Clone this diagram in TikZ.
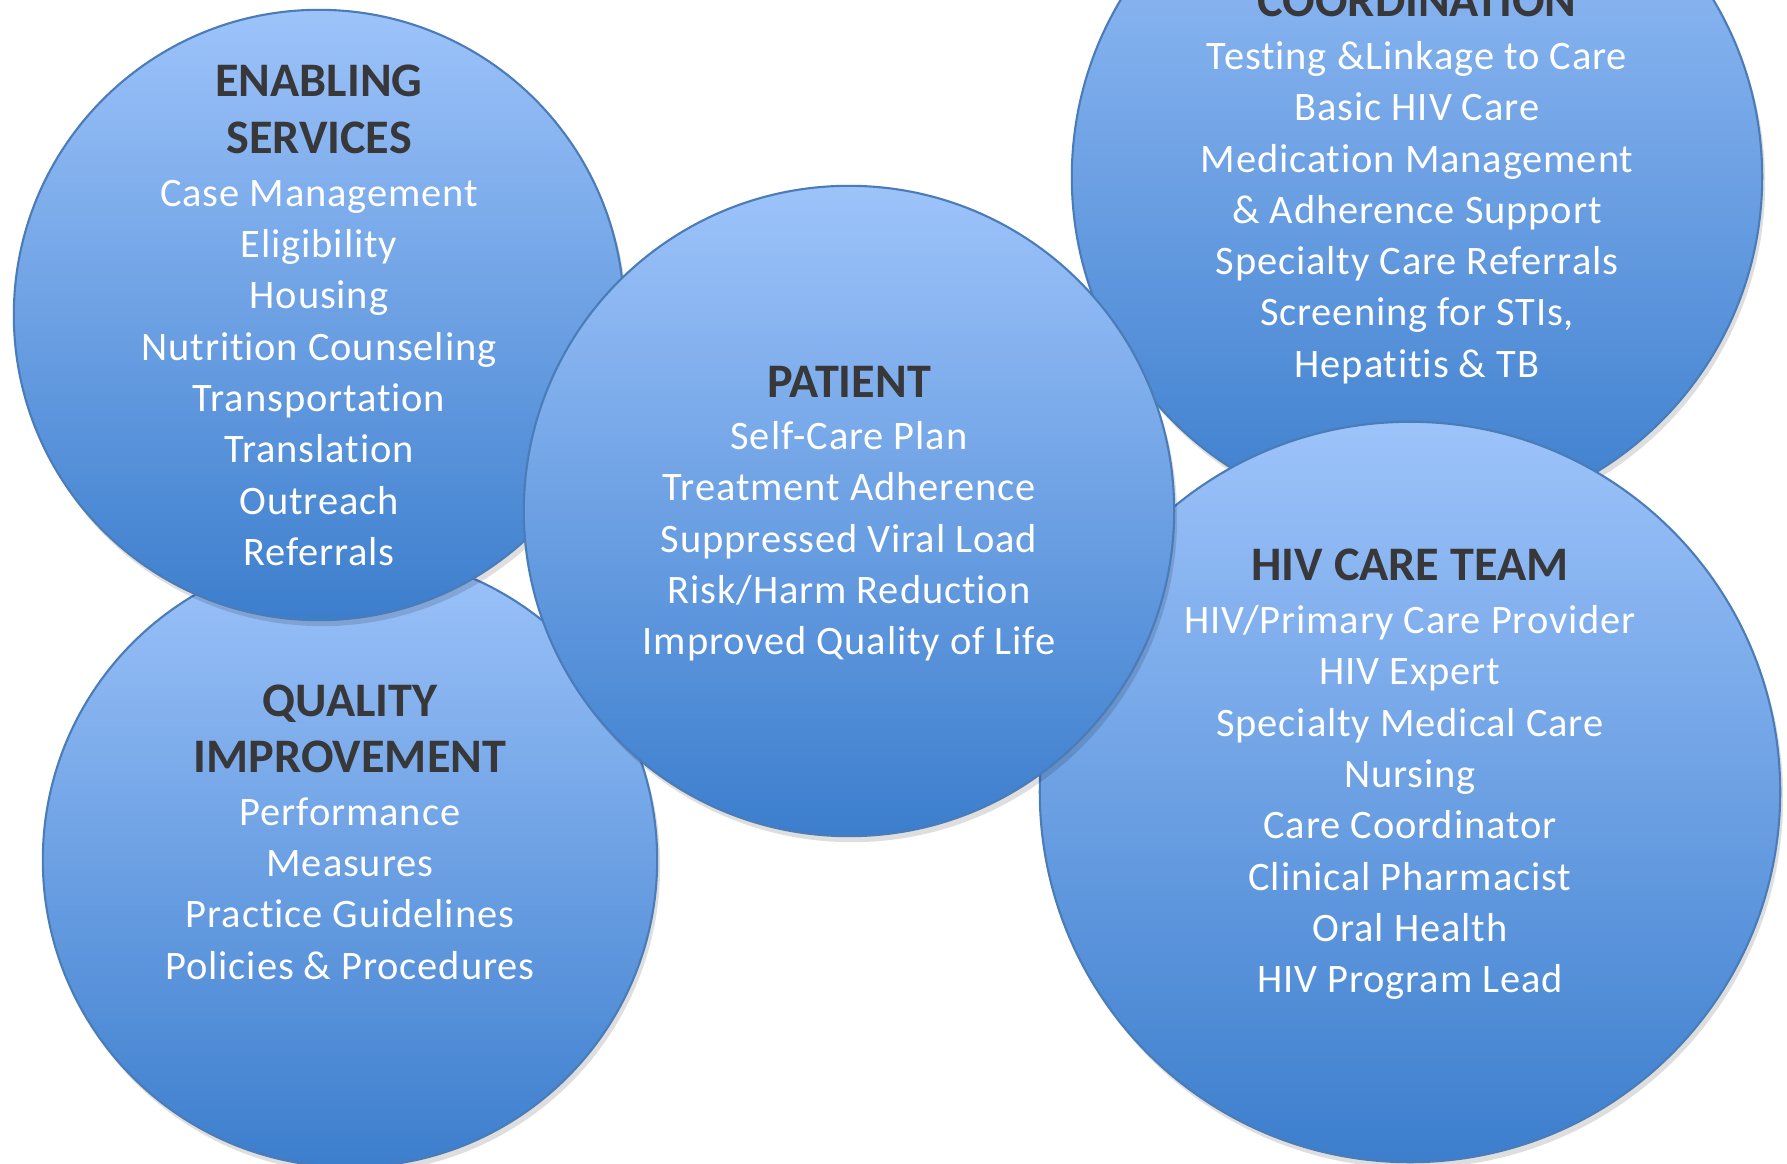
\documentclass[tikz,border=0pt]{standalone}
\usepackage{fontspec}
\setmainfont[Ligatures=NoCommon]{Carlito}
\newfontfamily\itemfont[Ligatures=NoCommon, LetterSpace=2.2]{Carlito}
\usetikzlibrary{shadows}
\definecolor{bubtop}{RGB}{157,195,250}
\definecolor{bubbot}{RGB}{60,126,205}
\definecolor{bubline}{RGB}{74,124,184}
\definecolor{headgray}{RGB}{56,56,58}
\tikzset{
  bubble/.style={circle, draw=bubline, line width=0.6pt, inner sep=0pt,
    top color=bubtop, bottom color=bubbot,
    drop shadow={shadow xshift=0.3mm, shadow yshift=-0.6mm, opacity=0.13, fill=black}},
  head/.style={anchor=base, inner sep=0pt, text=headgray, font=\bfseries\fontsize{13.7}{16}\selectfont},
  item/.style={anchor=base, inner sep=0pt, text=white, font=\itemfont\fontsize{11.5}{13}\selectfont}
}
\begin{document}
\begin{tikzpicture}[x=0.01cm, y=-0.01cm]
	\def\gap{51.3}
	\useasboundingbox (0,0) rectangle (1787,1164);
	\fill[white] (0,0) rectangle (1787,1164);
	\clip (0,0) rectangle (1787,1164);
	% circles, back to front
	\node[bubble, minimum size=6.14cm] (quality) at (350,860) {};
	\node[bubble, minimum size=6.10cm] (enabling) at (319,315) {};
	\node[bubble, minimum size=6.90cm] (coord) at (1417,177) {};
	\node[bubble, minimum size=7.40cm] (team) at (1410,792) {};
	\node[bubble, minimum size=6.50cm] (patient) at (849,511) {};
	% enabling services
	\node[head] (en-h1) at (319,97) {ENABLING};
	\node[head] (en-h2) at (319,154) {SERVICES};
	\foreach \t [count=\i from 0] in {Case Management, Eligibility, Housing, Nutrition Counseling, Transportation, Translation, Outreach, Referrals}
		\node[item] (en-\i) at (319,{206.3+\i*\gap}) {\t};
	% quality improvement
	\node[head] (qi-h1) at (350,716) {QUALITY};
	\node[head] (qi-h2) at (350,773) {IMPROVEMENT};
	\foreach \t [count=\i from 0] in {Performance, Measures, Practice Guidelines, Policies \& Procedures}
		\node[item] (qi-\i) at (350,{825.1+\i*\gap}) {\t};
	% patient
	\node[head] (pa-h) at (849,398) {PATIENT};
	\foreach \t [count=\i from 0] in {Self-Care Plan, Treatment Adherence, Suppressed Viral Load, Risk/Harm Reduction, Improved Quality of Life}
		\node[item] (pa-\i) at (849,{449.5+\i*\gap}) {\t};
	% coordination
	\node[head] (co-h) at (1417,17) {COORDINATION};
	\foreach \t [count=\i from 0] in {Testing \&Linkage to Care, Basic HIV Care, Medication Management, \& Adherence Support, Specialty Care Referrals, {Screening for STIs,}, Hepatitis \& TB}
		\node[item] (co-\i) at (1417,{69.5+\i*\gap}) {\t};
	% hiv care team
	\node[head] (ct-h) at (1410,581) {HIV CARE TEAM};
	\foreach \t [count=\i from 0] in {HIV/Primary Care Provider, HIV Expert, Specialty Medical Care, Nursing, Care Coordinator, Clinical Pharmacist, Oral Health, HIV Program Lead}
		\node[item] (ct-\i) at (1410,{633.6+\i*\gap}) {\t};
\end{tikzpicture}
\end{document}
